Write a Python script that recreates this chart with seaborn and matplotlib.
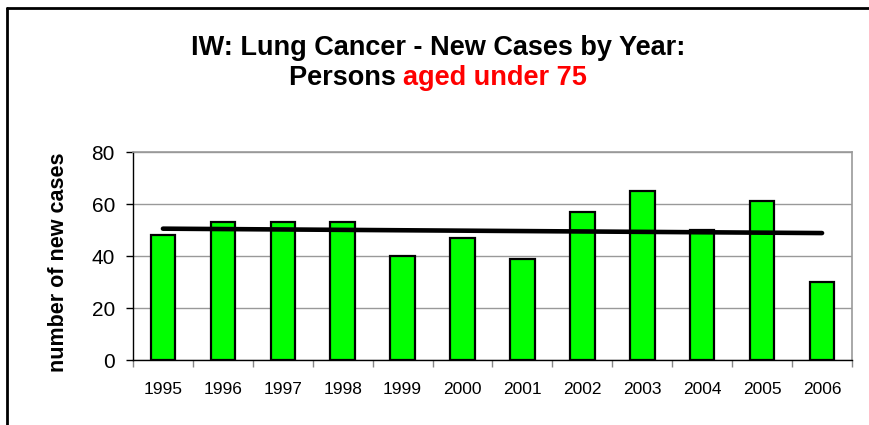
import numpy as np
import matplotlib
matplotlib.use('Agg')
import matplotlib.pyplot as plt
import seaborn as sns
from matplotlib.lines import Line2D

years = ['1995', '1996', '1997', '1998', '1999', '2000',
         '2001', '2002', '2003', '2004', '2005', '2006']
cases = [48, 53, 53, 53, 40, 47, 39, 57, 65, 50, 61, 30]
y_ticks = [0, 20, 40, 60, 80]

sns.set_style('white')
plt.rcParams['font.family'] = ['Liberation Sans', 'DejaVu Sans']
plt.rcParams['text.color'] = 'black'
plt.rcParams['xtick.color'] = 'black'
plt.rcParams['ytick.color'] = 'black'
plt.rcParams['axes.labelcolor'] = 'black'

fig = plt.figure(figsize=(8.7, 4.25), dpi=100)
ax = fig.add_axes([133 / 870, 65 / 425, 719 / 870, 208 / 425])

# bars + linear trend line (like an Excel trendline)
sns.barplot(x=years, y=cases, color='#00ff00', saturation=1, width=0.41,
            edgecolor='black', linewidth=1.6, ax=ax, zorder=2)
sns.regplot(x=np.arange(len(years)), y=cases, scatter=False, ci=None,
            color='black', truncate=True, ax=ax,
            line_kws={'linewidth': 3.3, 'solid_capstyle': 'round', 'zorder': 3})

ax.set_xlim(-0.5, len(years) - 0.5)
ax.set_ylim(0, 80)
ax.set_yticks(y_ticks)
ax.yaxis.grid(True, color='#999999', linewidth=1)
ax.set_axisbelow(True)
ax.set_xlabel('')
ax.set_ylabel('')

# ticks at category boundaries, labels at centres
ax.set_xticks(np.arange(-0.5, len(years), 1))
ax.set_xticklabels([])
ax.set_xticks(np.arange(len(years)), minor=True)
ax.set_xticklabels(years, minor=True)
ax.tick_params(axis='x', which='major', length=5, width=1, color='#888888', bottom=True)
ax.tick_params(axis='x', which='minor', length=0, labelsize=12.5, pad=16)
ax.tick_params(axis='y', length=5, width=1, color='black', labelsize=15, pad=8, left=True)

for side in ['left', 'bottom']:
    ax.spines[side].set_color('black')
    ax.spines[side].set_linewidth(1)
for side in ['top', 'right']:
    ax.spines[side].set_color('#999999')
    ax.spines[side].set_linewidth(1.2)

fig.text(59 / 870, 1 - 262 / 425, 'number of new cases', rotation=90,
         ha='center', va='center', fontsize=15.5, fontweight='bold')

# title, second line in two colours
fig.text(438 / 870, 1 - 55 / 425, 'IW: Lung Cancer - New Cases by Year:',
         ha='center', va='baseline', fontsize=19.5, fontweight='bold')
renderer = fig.canvas.get_renderer()
t1 = fig.text(0, 1 - 85 / 425, 'Persons ', ha='left', va='baseline',
              fontsize=19.5, fontweight='bold', color='black')
t2 = fig.text(0, 1 - 85 / 425, 'aged under 75', ha='left', va='baseline',
              fontsize=19.5, fontweight='bold', color='#ff0000')
w1 = t1.get_window_extent(renderer).width
w2 = t2.get_window_extent(renderer).width
x0 = 438 - (w1 + w2) / 2
t1.set_x(x0 / 870)
t2.set_x((x0 + w1) / 870)

# outer chart border (top and left edges visible)
fig.add_artist(Line2D([7 / 870, 1], [1 - 8 / 425, 1 - 8 / 425], color='black', linewidth=2))
fig.add_artist(Line2D([7 / 870, 7 / 870], [0, 1 - 8 / 425], color='black', linewidth=2))

fig.savefig('out.png', dpi=100)
